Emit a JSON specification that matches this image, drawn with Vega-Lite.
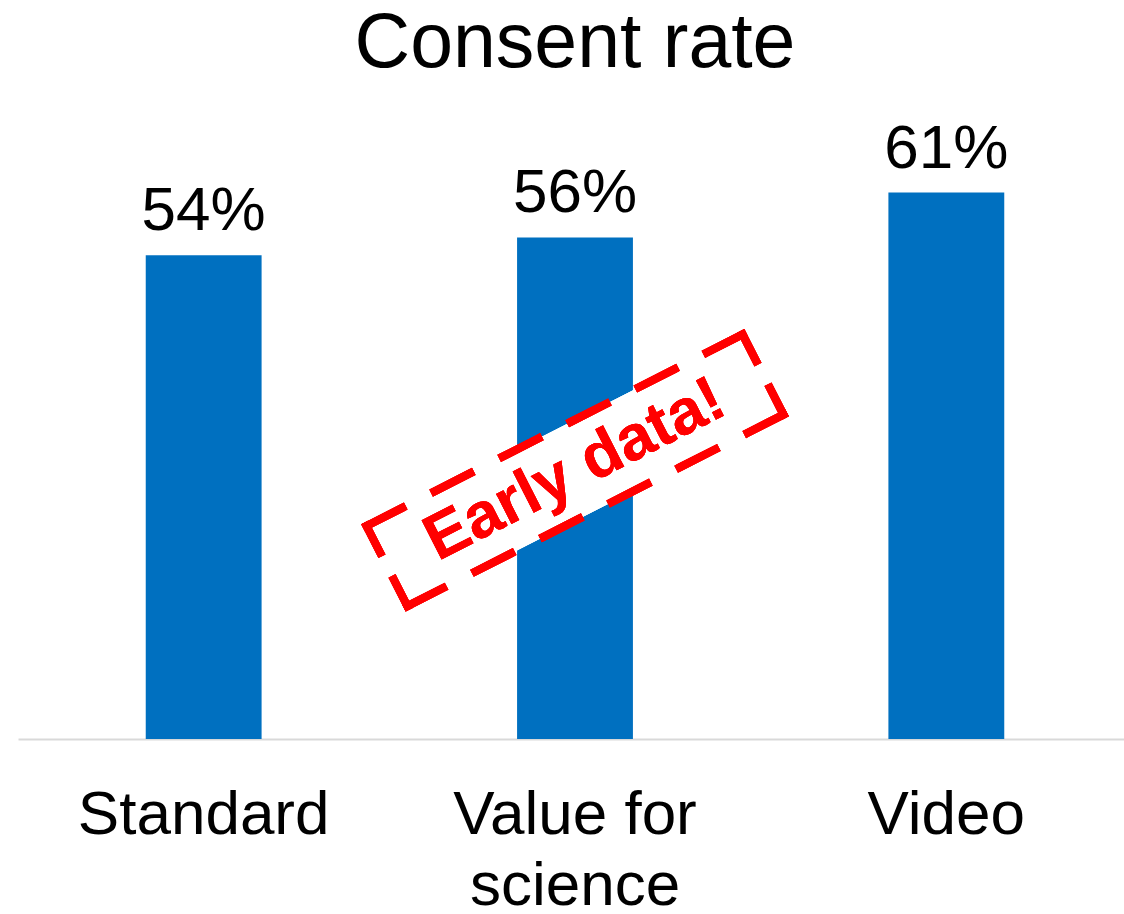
{
  "$schema": "https://vega.github.io/schema/vega-lite/v6.json",
  "autosize": "none",
  "padding": {"left": 18, "top": 112, "right": 0, "bottom": 175},
  "width": 1114,
  "height": 627,
  "background": "white",
  "config": {"view": {"stroke": null}, "font": "Liberation Sans"},
  "title": {
    "text": "Consent rate",
    "fontSize": 77,
    "fontWeight": "normal",
    "color": "black",
    "font": "Liberation Sans",
    "baseline": "alphabetic",
    "frame": "group",
    "offset": 44,
    "dy": 76,
    "anchor": "middle"
  },
  "data": {
    "values": [
      {"group": "Standard", "rate": 54, "label": "54%"},
      {"group": "Value for science", "rate": 56, "label": "56%"},
      {"group": "Video", "rate": 61, "label": "61%"}
    ]
  },
  "encoding": {
    "x": {
      "field": "group",
      "type": "nominal",
      "sort": null,
      "scale": {"paddingInner": 0.688, "paddingOuter": 0.344},
      "axis": {
        "title": null,
        "labelAngle": 0,
        "labelFontSize": 62,
        "labelColor": "black",
        "labelFont": "Liberation Sans",
        "labelLimit": 0,
        "labelPadding": 94,
        "labelLineHeight": 71,
        "labelBaseline": "alphabetic",
        "ticks": false,
        "domainColor": "#d9d9d9",
        "domainWidth": 2,
        "labelExpr": "datum.value == 'Value for science' ? ['Value for', 'science'] : datum.value"
      }
    },
    "y": {
      "field": "rate",
      "type": "quantitative",
      "scale": {"domain": [0, 70]},
      "axis": null
    }
  },
  "layer": [
    {"mark": {"type": "bar", "color": "#0070C0"}},
    {
      "mark": {"type": "text", "fontSize": 62, "color": "black", "baseline": "alphabetic", "dy": -25, "font": "Liberation Sans"},
      "encoding": {"text": {"field": "label"}}
    },
    {
      "mark": {
        "type": "point",
        "shape": "M -1 -0.2133 L 1 -0.2133 L 1 0.2133 L -1 0.2133 Z",
        "size": 178084,
        "filled": true,
        "fill": "white",
        "fillOpacity": 1,
        "strokeWidth": 0,
        "opacity": 1,
        "angle": 333
      },
      "encoding": {
        "x": {"datum": "Value for science"},
        "y": {"datum": 30}
      }
    },
    {
      "mark": {
        "type": "point",
        "shape": "M -1 -0.2133 L 0 -0.2133 M 1 -0.2133 L 0 -0.2133 M -1 0.2133 L 0 0.2133 M 1 0.2133 L 0 0.2133",
        "size": 178084,
        "filled": false,
        "stroke": "#FF0000",
        "strokeWidth": 8,
        "strokeCap": "square",
        "strokeDash": [40, 36.4],
        "opacity": 1,
        "angle": 333
      },
      "encoding": {
        "x": {"datum": "Value for science"},
        "y": {"datum": 30}
      }
    },
    {
      "mark": {
        "type": "point",
        "shape": "M -1 -0.2133 L -1 0 M -1 0.2133 L -1 0 M 1 -0.2133 L 1 0 M 1 0.2133 L 1 0",
        "size": 178084,
        "filled": false,
        "stroke": "#FF0000",
        "strokeWidth": 8,
        "strokeCap": "square",
        "strokeDash": [30, 30],
        "opacity": 1,
        "angle": 333
      },
      "encoding": {
        "x": {"datum": "Value for science"},
        "y": {"datum": 30}
      }
    },
    {
      "mark": {
        "type": "text",
        "text": "Early data!",
        "fontSize": 64,
        "fontWeight": "bold",
        "color": "#FF0000",
        "font": "Liberation Sans",
        "align": "center",
        "baseline": "middle",
        "angle": 333
      },
      "encoding": {
        "x": {"datum": "Value for science"},
        "y": {"datum": 30}
      }
    }
  ]
}
